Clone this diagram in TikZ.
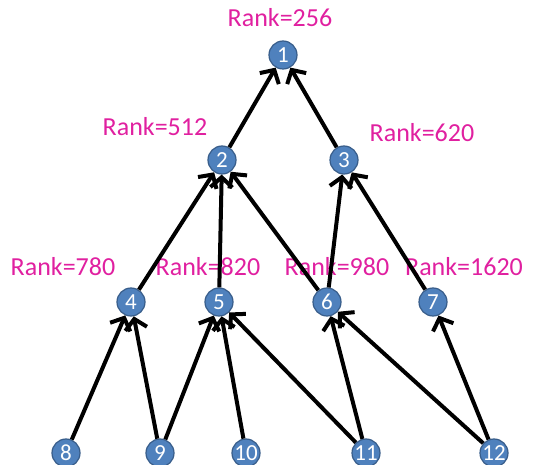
\documentclass[tikz,border=0pt]{standalone}
\usepackage{fontspec}
\setmainfont{Carlito}
\usetikzlibrary{arrows.meta}
\definecolor{nodefill}{RGB}{79,129,189}
\definecolor{nodeedge}{RGB}{56,93,138}
\definecolor{rankcol}{RGB}{224,32,160}
\begin{document}
\begin{tikzpicture}[x=1pt,y=-1pt,
  vtx/.style={circle,fill=nodefill,draw=nodeedge,line width=1.2pt,minimum size=28pt,inner sep=0pt,text=white,font=\fontsize{23}{23}\selectfont},
  rank/.style={text=rankcol,font=\fontsize{26}{26}\selectfont,inner sep=0pt},
  edge/.style={line width=4pt,-{Straight Barb[length=10pt,width=22pt,line width=4pt]}}]
\useasboundingbox (0,0) rectangle (544,465);
\node[vtx] (n1) at (283,55) {1};
\node[vtx] (n2) at (222,160) {2};
\node[vtx] (n3) at (344,160) {3};
\node[vtx] (n4) at (131,302) {4};
\node[vtx] (n5) at (219,302) {5};
\node[vtx] (n6) at (327,302) {6};
\node[vtx] (n7) at (433,302) {7};
\node[vtx] (n8) at (66,453) {8};
\node[vtx] (n9) at (160,453) {9};
\node[vtx] (n10) at (246,453) {10};
\node[vtx] (n11) at (366,453) {11};
\node[vtx] (n12) at (494,453) {12};
\node[rank] (r1) at (280,18) {Rank=256};
\node[rank] (r2) at (155,127) {Rank=512};
\node[rank] (r3) at (422,133) {Rank=620};
\node[rank] (r4) at (63,267) {Rank=780};
\node[rank] (r5) at (208,267) {Rank=820};
\node[rank] (r6) at (337,267) {Rank=980};
\node[rank] (r7) at (464,267) {Rank=1620};
\draw[edge] (n2) -- (n1);
\draw[edge] (n3) -- (n1);
\draw[edge] (n4) -- (n2);
\draw[edge] (n5) -- (n2);
\draw[edge] (n6) -- (n2);
\draw[edge] (n6) -- (n3);
\draw[edge] (n7) -- (n3);
\draw[edge] (n8) -- (n4);
\draw[edge] (n9) -- (n4);
\draw[edge] (n9) -- (n5);
\draw[edge] (n10) -- (n5);
\draw[edge] (n11) -- (n5);
\draw[edge] (n11) -- (n6);
\draw[edge] (n12) -- (n6);
\draw[edge] (n12) -- (n7);
\end{tikzpicture}
\end{document}
